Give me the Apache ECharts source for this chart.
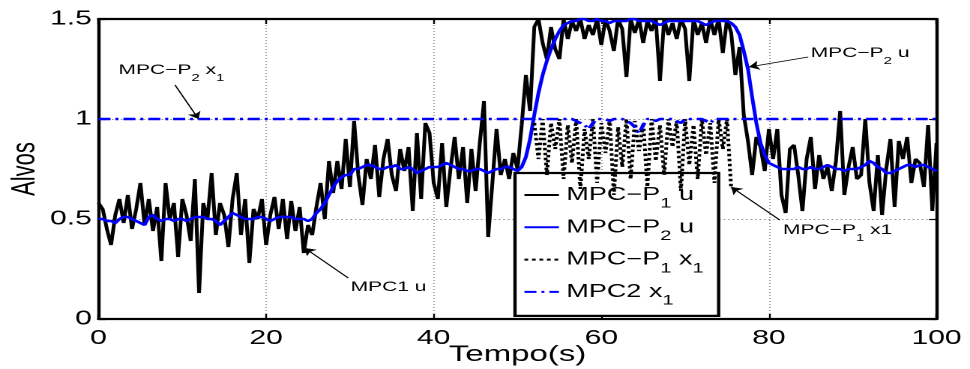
<!DOCTYPE html>
<html><head><meta charset="utf-8">
<script src="https://cdn.jsdelivr.net/npm/echarts@6/dist/echarts.min.js"></script>
<style>
html,body{margin:0;padding:0;background:#fff;overflow:hidden;}
#chart{width:647px;height:369px;transform:scaleX(1.4992272);transform-origin:0 0;}
</style>
</head><body><div id="chart"></div>
<script>
// ---------- data ----------
const dt = 0.5;                 // sampling step of every series (s)
const xMin = 0, xMax = 100, xStep = 20;
const yMin = 0, yMax = 1.5, yStep = 0.5;
const seriesNames = ['MPC−P1 u', 'MPC−P2 u', 'MPC−P1 x1', 'MPC2 x1'];

// MPC-P1 u (black solid), t = 0 .. 100
const p1u = [
0.58,0.55,0.45,0.37,0.52,0.60,0.48,0.62,0.45,0.55,
0.68,0.47,0.60,0.44,0.56,0.29,0.68,0.50,0.58,0.31,
0.60,0.52,0.39,0.70,0.13,0.58,0.50,0.73,0.42,0.58,
0.52,0.36,0.60,0.73,0.42,0.60,0.28,0.55,0.50,0.60,
0.37,0.52,0.61,0.45,0.60,0.40,0.59,0.44,0.56,0.33,
0.47,0.42,0.56,0.68,0.50,0.79,0.63,0.79,0.65,0.90,
0.66,0.99,0.72,0.57,0.80,0.70,0.87,0.61,0.80,0.90,
0.72,0.64,0.85,0.74,0.86,0.54,0.93,0.60,0.98,0.93,
0.68,0.60,0.88,0.56,0.75,0.91,0.70,0.86,0.58,0.85,
0.64,0.88,1.09,0.41,0.68,0.95,0.72,0.80,0.70,0.83,
0.75,0.97,1.22,1.04,1.46,1.50,1.38,1.30,1.46,1.35,
1.30,1.50,1.40,1.49,1.44,1.50,1.40,1.47,1.42,1.50,
1.37,1.50,1.44,1.34,1.50,1.45,1.21,1.50,1.43,1.50,
1.38,1.49,1.44,1.50,1.19,1.50,1.42,1.48,1.40,1.50,
1.45,1.19,1.50,1.42,1.48,1.38,1.50,1.42,1.50,1.33,
1.50,1.43,1.22,1.36,1.02,0.89,0.72,0.91,0.86,0.74,
0.95,0.80,0.95,0.62,0.53,0.85,0.87,0.72,0.54,0.80,
0.91,0.65,0.82,0.70,0.76,0.64,0.79,1.04,0.62,0.76,
0.86,0.70,0.72,1.00,0.68,0.54,0.82,0.52,0.75,0.90,
0.56,0.89,0.80,0.91,0.68,0.80,0.78,0.66,0.97,0.54,
0.88];

// MPC-P2 u (blue solid), t = 0 .. 100
const p2u = [
0.50,0.50,0.49,0.49,0.48,0.50,0.51,0.51,0.50,0.49,
0.48,0.47,0.51,0.52,0.50,0.49,0.50,0.50,0.49,0.50,
0.50,0.49,0.50,0.51,0.51,0.51,0.50,0.50,0.49,0.47,
0.49,0.51,0.53,0.52,0.51,0.50,0.50,0.50,0.51,0.51,
0.50,0.49,0.50,0.51,0.51,0.51,0.51,0.50,0.50,0.50,
0.49,0.50,0.53,0.55,0.58,0.62,0.66,0.69,0.71,0.72,
0.72,0.75,0.75,0.76,0.77,0.77,0.76,0.75,0.75,0.76,
0.76,0.77,0.75,0.75,0.76,0.75,0.73,0.74,0.75,0.76,
0.76,0.76,0.77,0.78,0.77,0.76,0.75,0.75,0.74,0.74,
0.75,0.75,0.74,0.73,0.74,0.75,0.75,0.76,0.76,0.75,
0.74,0.76,0.81,0.90,1.02,1.13,1.22,1.29,1.35,1.40,
1.44,1.47,1.48,1.49,1.49,1.50,1.50,1.49,1.49,1.50,
1.49,1.49,1.48,1.49,1.49,1.49,1.49,1.50,1.50,1.49,
1.49,1.49,1.49,1.48,1.47,1.48,1.49,1.49,1.49,1.49,
1.49,1.49,1.49,1.49,1.48,1.47,1.48,1.49,1.49,1.49,
1.49,1.48,1.46,1.42,1.34,1.25,1.11,0.98,0.88,0.82,
0.78,0.77,0.76,0.75,0.75,0.75,0.75,0.76,0.75,0.75,
0.76,0.75,0.75,0.76,0.77,0.76,0.75,0.75,0.74,0.75,
0.75,0.75,0.76,0.77,0.79,0.78,0.76,0.75,0.73,0.73,
0.74,0.75,0.76,0.77,0.77,0.76,0.77,0.77,0.76,0.75,
0.74];

// MPC-P1 x1 (black dotted), visible from t = 52 to 75.5
const p1x1Start = 52;
const p1x1 = [
0.98,0.80,1.00,0.72,0.98,0.85,1.00,0.70,0.97,0.78,
1.00,0.65,0.95,0.80,1.00,0.68,0.98,0.83,1.00,0.62,
0.96,0.76,1.00,0.70,0.99,0.84,0.98,0.66,1.00,0.79,
0.97,0.72,1.00,0.86,0.99,0.64,1.00,0.77,0.97,0.70,
1.00,0.82,0.98,0.68,1.00,0.85,1.00,0.65];

// MPC2 x1 (blue dash-dot), t = 0 .. 100
const p2x1 = [
1,1,1,1,1,1,1,1,1,1, 1,1,1,1,1,1,1,1,1,1,
1,1,1,1,1,1,1,1,1,1, 1,1,1,1,1,1,1,1,1,1,
1,1,1,1,1,1,1,1,1,1, 1,1,1,1,1,1,1,1,1,1,
1,1,1,1,1,1,1,1,1,1, 1,1,1,1,1,1,1,1,1,1,
1,1,1,1,1,1,1,1,1,1, 1,1,1,1,1,1,1,1,1,1,
1,1,1,1,1,1,1,1,1,1, 1,1,1,1,
0.99,0.98,0.97,0.95,0.98,1,1,1,0.99,1,
1,1,0.99,0.98,0.96,0.93,0.97,1,1,0.99,
1,1,1,1,0.99,0.98,1,1,1,1,
1,0.99,0.98,1,
1,1,1,1,1,1,1,1,1,1, 1,1,1,1,1,1,1,1,1,1,
1,1,1,1,1,1,1,1,1,1, 1,1,1,1,1,1,1,1,1,1,
1,1,1,1,1,1,1,1,1,1, 1,1,1];

// ---------- annotations (text, label anchor, arrow start, arrow tip in data units) ----------
const annotations = [
  {text: '{m|MPC−P}{d|2}{m| x}{d|1}', at: [2.3, 1.245], from: [9.13, 1.17], to: [11.93, 1.0]},
  {text: '{m|MPC1 u}',                at: [30.0, 0.16],  from: [29.8, 0.205], to: [24.6, 0.355]},
  {text: '{m|MPC−P}{d|2}{m| u}',      at: [84.9, 1.33],  from: [84.7, 1.31], to: [77.6, 1.26]},
  {text: '{m|MPC−P}{d|1}{m| x1}',     at: [81.6, 0.445], from: [81.3, 0.495], to: [75.5, 0.66]}
];
const legendLabels = {
  'MPC−P1 u':  '{m|MPC−P}{d|1}{m| u}',
  'MPC−P2 u':  '{m|MPC−P}{d|2}{m| u}',
  'MPC−P1 x1': '{m|MPC−P}{d|1}{m| x}{d|1}',
  'MPC2 x1':   '{m|MPC2 x}{d|1}'
};

// ---------- chart ----------
const FONT = "'Liberation Sans', Arial, Helvetica, sans-serif";
const pairs = (arr, t0) => arr.map((v, i) => [t0 + i * dt, v]);
const S = 970 / 647;

const chart = echarts.init(document.getElementById('chart'), null, {renderer: 'canvas', devicePixelRatio: 2});

const axisCommon = {
  axisLine: {show: true, onZero: false, lineStyle: {color: '#000', width: 2.2}},
  axisTick: {show: true, inside: true, length: 5, lineStyle: {color: '#000', width: 1.2}},
};

const option = {
  animation: false,
  backgroundColor: '#fff',
  grid: {left: 98.5 / S, right: 33.5 / S, top: 19, bottom: 50, containLabel: false, outerBoundsMode: 'none'},
  xAxis: [
    Object.assign({
      type: 'value', min: xMin, max: xMax, interval: xStep, position: 'bottom',
      name: 'Tempo(s)', nameLocation: 'middle', nameGap: 25, nameMoveOverlap: false,
      nameTextStyle: {fontFamily: FONT, fontSize: 22, color: '#000'},
      axisLabel: {fontFamily: FONT, fontSize: 20, color: '#000', margin: 9.5},
      splitLine: {show: true, lineStyle: {color: '#888', width: 0.8, type: [1, 2]}}
    }, axisCommon),
    Object.assign({
      type: 'value', min: xMin, max: xMax, interval: xStep, position: 'top',
      axisLabel: {show: false}, splitLine: {show: false}
    }, axisCommon)
  ],
  yAxis: [
    Object.assign({
      type: 'value', min: yMin, max: yMax, interval: yStep, position: 'left',
      name: 'Alvos', nameLocation: 'middle', nameGap: 38, nameRotate: 90, nameMoveOverlap: false,
      nameTextStyle: {fontFamily: FONT, fontSize: 22, color: '#000'},
      axisLabel: {fontFamily: FONT, fontSize: 20, color: '#000', margin: 4.5},
      splitLine: {show: true, lineStyle: {color: '#888', width: 1, type: [1, 2]}}
    }, axisCommon),
    Object.assign({
      type: 'value', min: yMin, max: yMax, interval: yStep, position: 'right',
      axisLabel: {show: false}, splitLine: {show: false}
    }, axisCommon)
  ],
  legend: {
    data: seriesNames,
    orient: 'vertical',
    left: 515 / S, top: 173,
    padding: [6, 10, 8, 5],
    itemWidth: 23, itemHeight: 32, itemGap: 0.3,
    backgroundColor: '#fff', borderColor: '#000', borderWidth: 2.2, borderRadius: 0,
    selectedMode: false,
    itemStyle: {opacity: 0, borderWidth: 0},
    lineStyle: {width: 2},
    formatter: name => legendLabels[name],
    textStyle: {
      fontFamily: FONT, fontSize: 18, color: '#000', lineHeight: 32,
      rich: {
        m: {fontFamily: FONT, fontSize: 18, color: '#000', lineHeight: 32},
        d: {fontFamily: FONT, fontSize: 13.5, color: '#000', lineHeight: 32, verticalAlign: 'bottom'}
      }
    }
  },
  series: [
    {name: seriesNames[0], type: 'line', data: pairs(p1u, 0), symbol: 'none', showSymbol: false,
     lineStyle: {color: '#000', width: 2.5}, itemStyle: {color: '#000'}, z: 2},
    {name: seriesNames[1], type: 'line', data: pairs(p2u, 0), symbol: 'none', showSymbol: false,
     lineStyle: {color: '#0000ff', width: 2.5}, itemStyle: {color: '#0000ff'}, z: 3},
    {name: seriesNames[2], type: 'line', data: pairs(p1x1, p1x1Start), symbol: 'none', showSymbol: false,
     lineStyle: {color: '#000', width: 2.5, type: [2.5, 2.5]}, itemStyle: {color: '#000'}, z: 4},
    {name: seriesNames[3], type: 'line', data: pairs(p2x1, 0), symbol: 'none', showSymbol: false,
     lineStyle: {color: '#0000ff', width: 2.5, type: [8, 3.3, 2, 3.3]}, itemStyle: {color: '#0000ff'}, z: 5,
     markLine: {
       silent: true, symbol: ['none', 'arrow'], symbolSize: 7, precision: 3,
       label: {show: false},
       lineStyle: {color: '#000', width: 0.9, type: 'solid'},
       emphasis: {disabled: true},
       data: annotations.map(a => [{coord: a.from}, {coord: a.to}])
     },
     markPoint: {
       silent: true,
       data: annotations.map(a => ({
         coord: a.at, symbol: 'circle', symbolSize: 1,
         itemStyle: {color: 'rgba(0,0,0,0)'},
         label: {
           show: true, position: 'right', distance: 0,
           formatter: () => a.text,
           rich: {
             m: {fontFamily: FONT, fontSize: 14, color: '#000', lineHeight: 26},
             d: {fontFamily: FONT, fontSize: 10, color: '#000', lineHeight: 26, verticalAlign: 'bottom'}
           }
         }
       }))
     }
    }
  ]
};
chart.setOption(option);
</script>
</body></html>
